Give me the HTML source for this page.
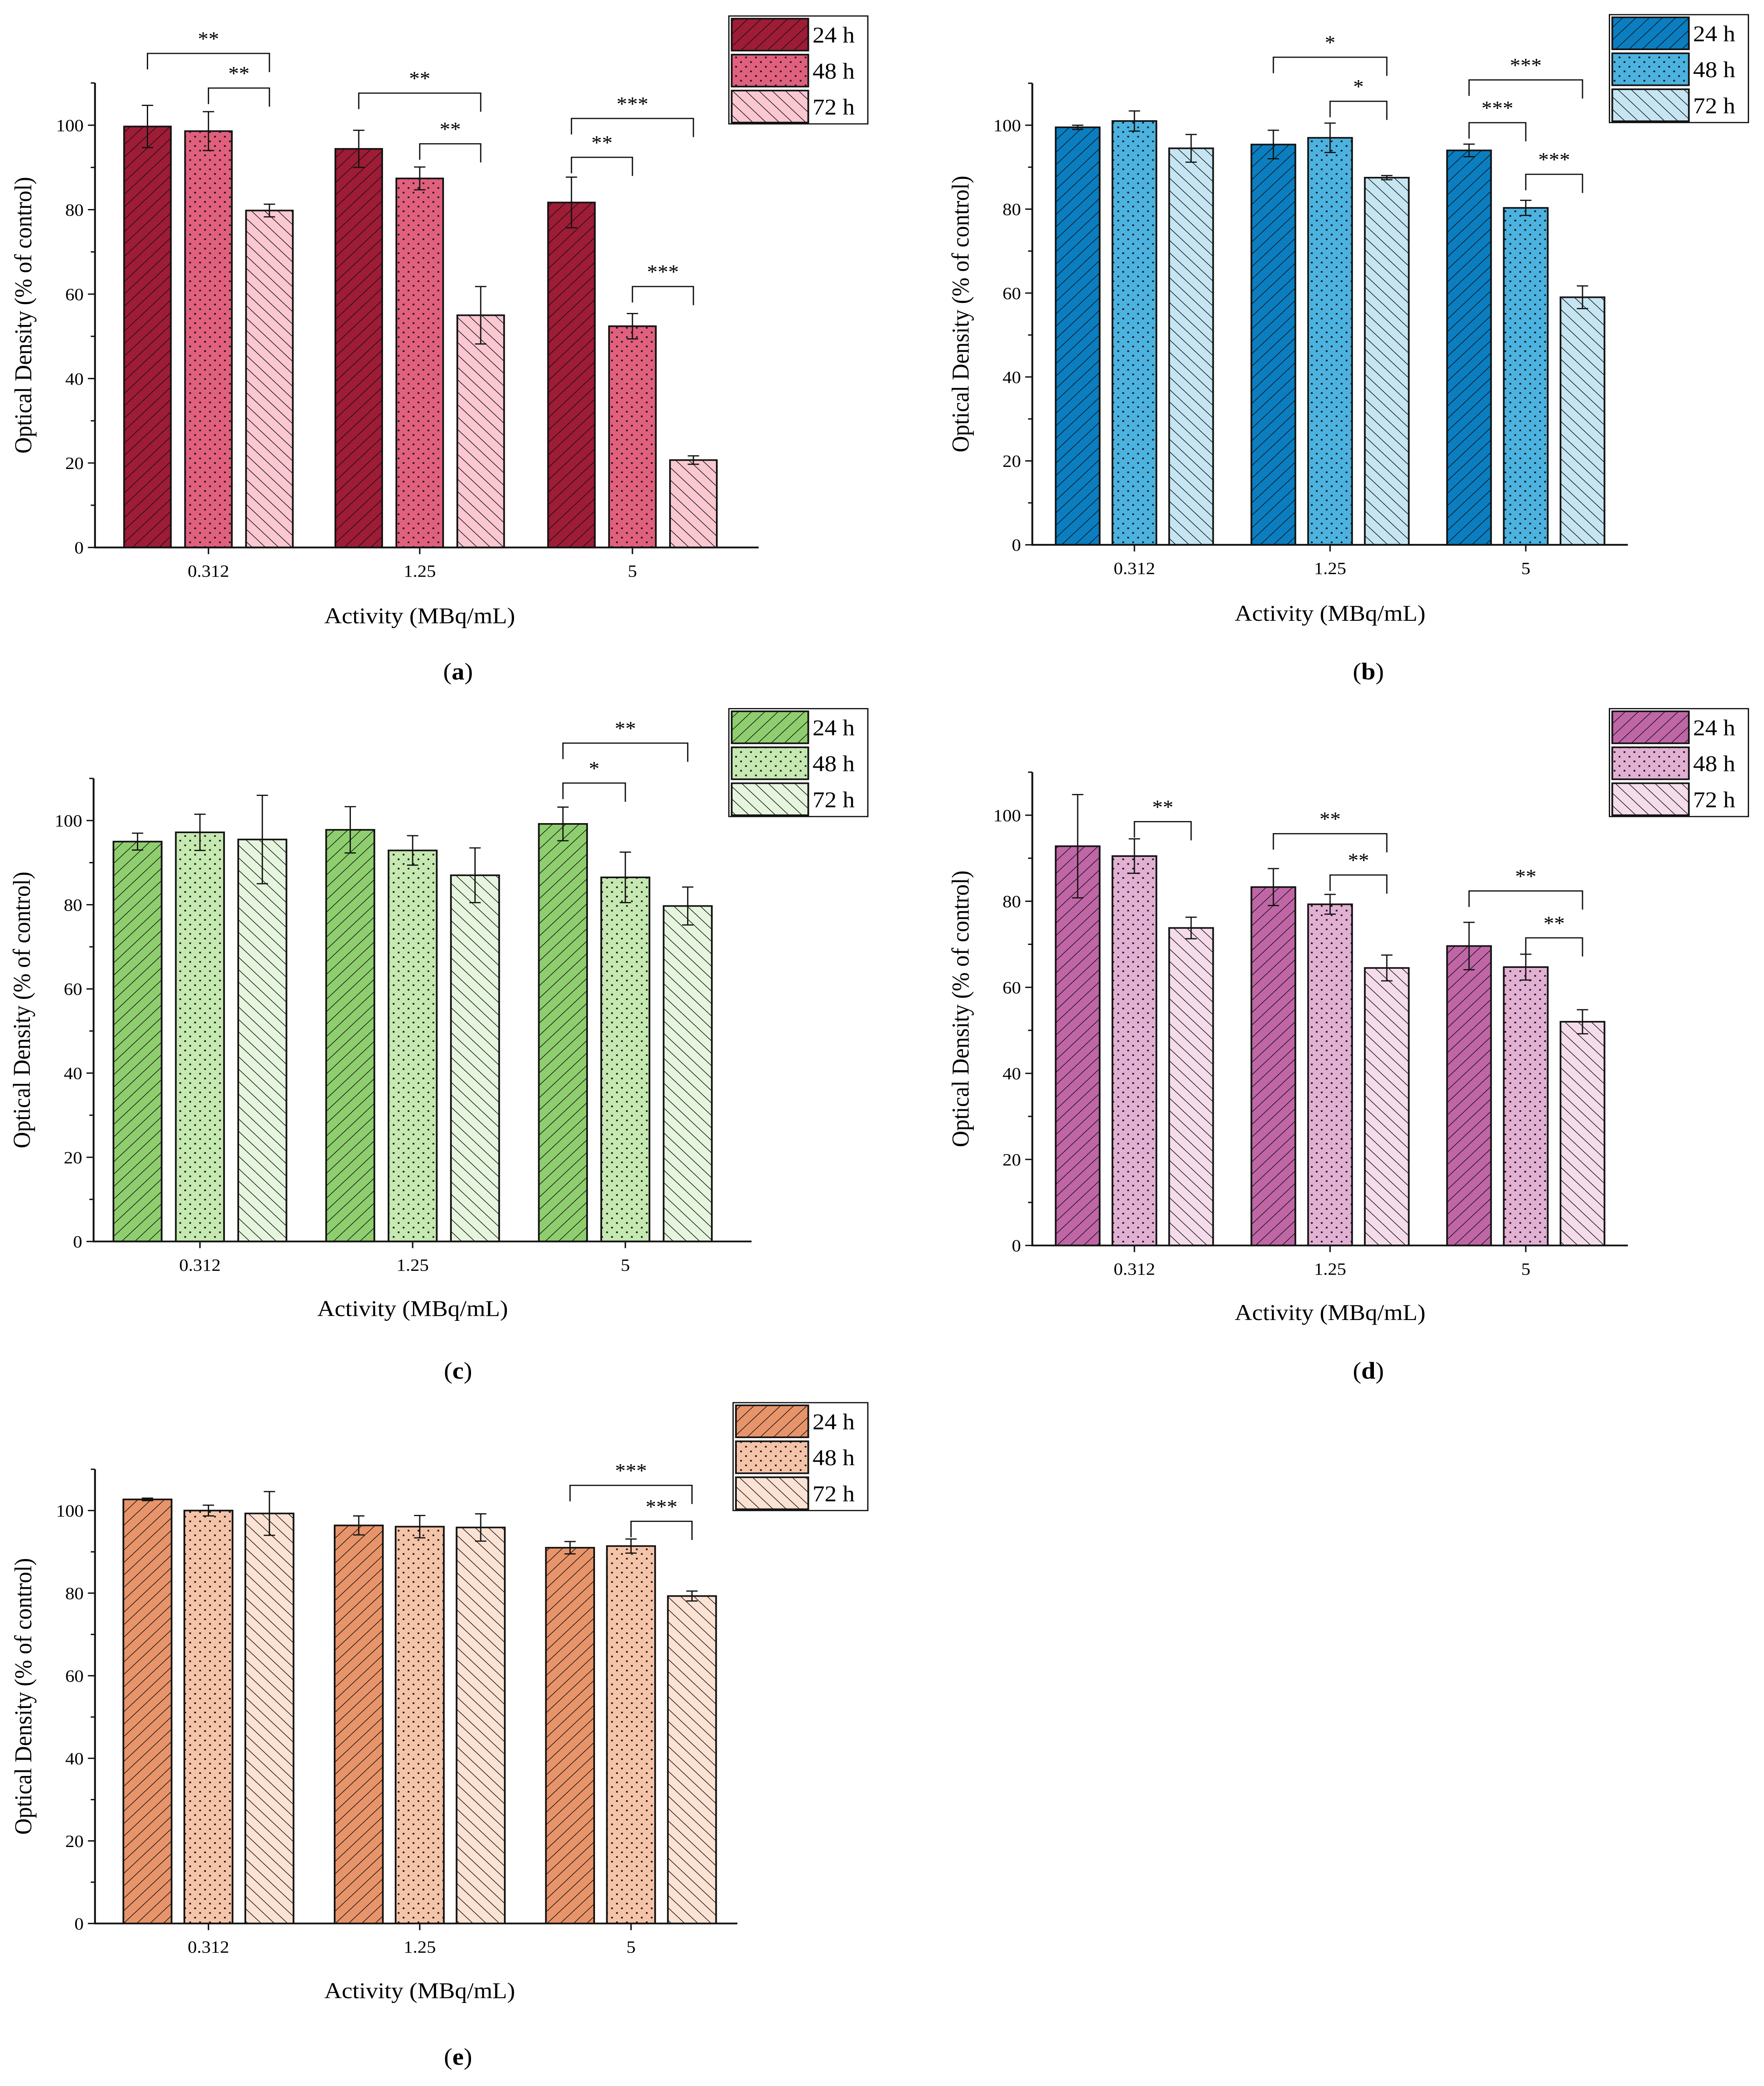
<!DOCTYPE html>
<html><head><meta charset="utf-8">
<meta name="viewport" content="width=4228">
<style>
html,body{margin:0;padding:0;background:#fff;overflow:hidden;width:100vw;height:100vh}
#fig{display:block;position:absolute;left:0;top:0;width:100vw;height:100vh}
</style>
</head><body>
<svg id="fig" xmlns="http://www.w3.org/2000/svg" viewBox="0 0 1244 1566" preserveAspectRatio="none" font-family="'Liberation Serif', serif">
<defs id="defs"></defs>
<rect width="1244" height="1566" fill="#fff"/>
</svg>
<script>
const categories = ["0.312", "1.25", "5"];
const seriesNames = ["24 h", "48 h", "72 h"];
const yTicks = [0, 20, 40, 60, 80, 100];
// values [group][series]
const valuesA = [[99.7, 98.6, 79.8], [94.4, 87.4, 55.0], [81.7, 52.4, 20.7]];
const errorsA = [[5.0, 4.6, 1.5], [4.4, 2.7, 6.8], [6.0, 3.0, 1.0]];
const valuesB = [[99.5, 101.0, 94.5], [95.4, 97.0, 87.5], [94.0, 80.3, 59.0]];
const errorsB = [[0.5, 2.4, 3.3], [3.4, 3.5, 0.5], [1.5, 1.8, 2.7]];
const valuesC = [[95.0, 97.2, 95.5], [97.8, 92.9, 87.0], [99.2, 86.5, 79.7]];
const errorsC = [[2.0, 4.3, 10.5], [5.5, 3.5, 6.5], [4.0, 6.0, 4.5]];
const valuesD = [[92.8, 90.5, 73.8], [83.3, 79.3, 64.5], [69.6, 64.7, 52.0]];
const errorsD = [[12.0, 4.0, 2.5], [4.3, 2.3, 3.0], [5.5, 3.0, 2.8]];
const valuesE = [[102.7, 100.0, 99.3], [96.4, 96.1, 95.9], [91.0, 91.4, 79.3]];
const errorsE = [[0.3, 1.3, 5.3], [2.3, 2.7, 3.3], [1.5, 1.7, 1.2]];
// significance: [group, fromBar, toBar, bracketValue, stars]
const sigA = [[0,0,2,117,"**"],[0,1,2,108.8,"**"],[1,0,2,107.6,"**"],[1,1,2,95.6,"**"],[2,0,2,101.6,"***"],[2,0,1,92.4,"**"],[2,1,2,61.8,"***"]];
const sigB = [[1,0,2,116.2,"*"],[1,1,2,105.7,"*"],[2,0,2,110.8,"***"],[2,0,1,100.6,"***"],[2,1,2,88.3,"***"]];
const sigC = [[2,0,2,118.4,"**"],[2,0,1,108.9,"*"]];
const sigD = [[0,1,2,98.5,"**"],[1,0,2,95.7,"**"],[1,1,2,86.1,"**"],[2,0,2,82.4,"**"],[2,1,2,71.5,"**"]];
const sigE = [[2,0,2,106.1,"***"],[2,1,2,97.4,"***"]];

const NS = "http://www.w3.org/2000/svg";
const svg = document.getElementById("fig");
const defs = document.getElementById("defs");
function mk(tag, attrs, parent) {
  const e = document.createElementNS(NS, tag);
  for (const k in attrs) e.setAttribute(k, attrs[k]);
  (parent || svg).appendChild(e);
  return e;
}

const panels = [
  {id:"a", vals:valuesA, errs:errorsA, sig:sigA, colors:["#9e1c36","#e0607e","#fbc7d1"], x0:67, x1:535, y0:411, y100:94, cx:[147,296,446], bw:33, off:43, leg:[514,12,98], lab:[323,510], xt:[296,468]},
  {id:"b", vals:valuesB, errs:errorsB, sig:sigB, colors:["#0a7ec0","#4cb2df","#c6e5f2"], x0:728, x1:1148, y0:409, y100:94, cx:[800,938,1076], bw:31, off:40, leg:[1135,11,98], lab:[965,510], xt:[938,466]},
  {id:"c", vals:valuesC, errs:errorsC, sig:sigC, colors:["#8fce6f","#c6e8b1","#e6f5dd"], x0:66, x1:530, y0:932, y100:616, cx:[141,291,441], bw:34, off:44, leg:[514,532,98], lab:[323,1035], xt:[291,988]},
  {id:"d", vals:valuesD, errs:errorsD, sig:sigD, colors:["#c066a6","#e2b0d2","#f5dcea"], x0:728, x1:1148, y0:935, y100:612, cx:[800,938,1076], bw:31, off:40, leg:[1135,532,98], lab:[965,1035], xt:[938,991]},
  {id:"e", vals:valuesE, errs:errorsE, sig:sigE, colors:["#e8946a","#f5c4a8","#fbe2d3"], x0:67, x1:520, y0:1444, y100:1134, cx:[147,296,445], bw:34, off:43, leg:[517,1053,95], lab:[323,1550], xt:[296,1500]}
];

function makePatterns(p) {
  p.colors.forEach((c, s) => {
    const pid = "pat-" + p.id + s;
    if (s === 1) {
      const pat = mk("pattern", {id:pid, patternUnits:"userSpaceOnUse", width:7, height:7}, defs);
      mk("rect", {width:7, height:7, fill:c}, pat);
      mk("rect", {x:0.5, y:0.5, width:1.2, height:1.2, fill:"#111"}, pat);
      mk("rect", {x:4, y:4, width:1.2, height:1.2, fill:"#111"}, pat);
    } else {
      const pat = mk("pattern", {id:pid, patternUnits:"userSpaceOnUse", width:6.6, height:6.6, patternTransform:"rotate(" + (s===0?45:-45) + ")"}, defs);
      mk("rect", {width:6.6, height:6.6, fill:c}, pat);
      mk("line", {x1:0, y1:0, x2:0, y2:6.6, stroke:"#111", "stroke-width":0.9}, pat);
    }
  });
}

panels.forEach(p => {
  makePatterns(p);
  const yScale = v => p.y0 - (p.y0 - p.y100) * v / 100;
  const xBar = (g, s) => p.cx[g] + (s - 1) * p.off;
  const g = mk("g", {});
  
  
  p.vals.forEach((row, gi) => row.forEach((v, s) => {
    const xc = xBar(gi, s);
    const r = mk("rect", {x:xc - p.bw/2, y:yScale(v), width:p.bw, height:p.y0 - yScale(v), fill:"url(#pat-" + p.id + s + ")", stroke:"#111", "stroke-width":1.2}, g);
    
    
    const e = p.errs[gi][s];
    const eb = mk("path", {d:"M" + xc + " " + yScale(v+e) + "V" + yScale(v-e) + "M" + (xc-4) + " " + yScale(v+e) + "H" + (xc+4) + "M" + (xc-4) + " " + yScale(v-e) + "H" + (xc+4), stroke:"#111", "stroke-width":0.9, fill:"none"}, g);
    
    
  }));
  const ax = mk("path", {d:"M" + p.x0 + " " + yScale(110) + "V" + p.y0 + "H" + p.x1, stroke:"#111", "stroke-width":1.3, fill:"none"}, g);
  
  
  for (let v = 10; v <= 110; v += 20) mk("line", {x1:p.x0-3, x2:p.x0, y1:yScale(v), y2:yScale(v), stroke:"#111", "stroke-width":1}, g);
  yTicks.forEach(v => {
    mk("line", {x1:p.x0-5, x2:p.x0, y1:yScale(v), y2:yScale(v), stroke:"#111", "stroke-width":1}, g);
    const t = mk("text", {x:p.x0-8, y:yScale(v)+4.5, "font-size":13, "text-anchor":"end"}, g);
    t.textContent = v;
    
    
  });
  categories.forEach((c, i) => {
    mk("line", {x1:p.cx[i], x2:p.cx[i], y1:p.y0, y2:p.y0+5, stroke:"#111", "stroke-width":1}, g);
    const t = mk("text", {x:p.cx[i], y:p.y0+22, "font-size":13, "text-anchor":"middle"}, g);
    t.textContent = c;
    
    
  });
  const xt = mk("text", {x:p.xt[0], y:p.xt[1], "font-size":17, "text-anchor":"middle"}, g);
  xt.textContent = "Activity (MBq/mL)";
  
  
  const ym = (p.y0 + yScale(110)) / 2;
  const yt = mk("text", {x:p.x0-45, y:ym, "font-size":17, "text-anchor":"middle", transform:"rotate(-90 " + (p.x0-45) + " " + ym + ")"}, g);
  yt.textContent = "Optical Density (% of control)";
  
  
  const pl = mk("text", {x:p.lab[0], y:p.lab[1], "font-size":18, "text-anchor":"middle"}, g);
  pl.innerHTML = '(<tspan font-weight="bold">' + p.id + '</tspan>)';
  
  
  p.sig.forEach(sg => {
    const xa = xBar(sg[0], sg[1]), xb = xBar(sg[0], sg[2]), yy = yScale(sg[3]);
    const br = mk("path", {d:"M" + xa + " " + (yy+12) + "V" + yy + "H" + xb + "V" + (yy+14), stroke:"#111", "stroke-width":0.9, fill:"none"}, g);
    
    
    const st = mk("text", {x:(xa+xb)/2, y:yy-6, "font-size":15, "text-anchor":"middle"}, g);
    st.textContent = sg[4];
    
    
  });
  const [lx, ly, lw] = p.leg;
  const lg = mk("g", {}, g);
  
  
  mk("rect", {x:lx, y:ly, width:lw, height:81, fill:"#fff", stroke:"#111", "stroke-width":0.9}, lg);
  const sw = lw - 44;
  seriesNames.forEach((n, s) => {
    const r = mk("rect", {x:lx+2, y:ly+2+s*27, width:sw, height:24, fill:"url(#pat-" + p.id + s + ")", stroke:"#111", "stroke-width":1.2}, lg);
    
    
    const t = mk("text", {x:lx+sw+5, y:ly+20+s*27, "font-size":17}, lg);
    t.textContent = n;
    
    
  });
});
</script>
</body></html>
